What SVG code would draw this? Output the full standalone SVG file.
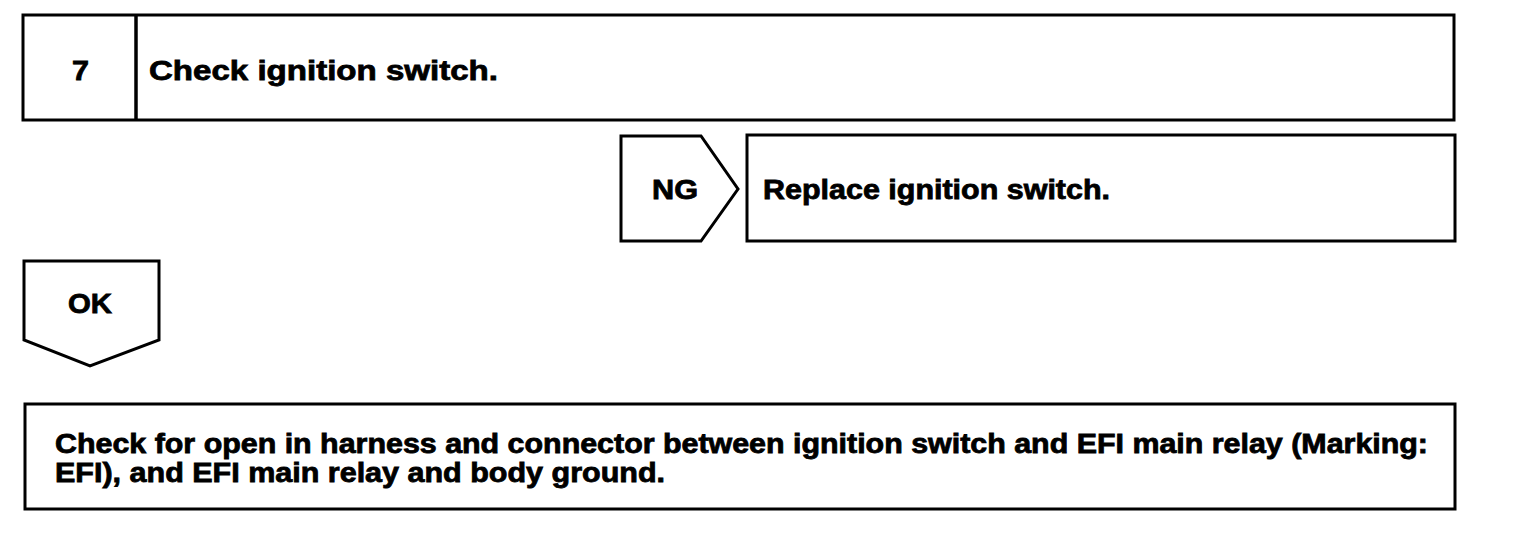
<svg xmlns="http://www.w3.org/2000/svg" width="1536" height="546" viewBox="0 0 1536 546">
<style>
.box{fill:#fff;stroke:#000;stroke-width:3}
.t{font-family:"Liberation Sans",Arial,Helvetica,sans-serif;font-weight:bold;font-size:28px;fill:#000;stroke:#000;stroke-width:0.8}
.s{font-size:27px}
</style>
<rect width="1536" height="546" fill="#fff"/>
<g id="step7">
<rect class="box" x="23" y="15" width="1431" height="105" stroke-width="3.5"/>
<line x1="136" y1="15" x2="136" y2="120" stroke="#000" stroke-width="3.5"/>
<text class="t" x="72" y="80" textLength="17" lengthAdjust="spacingAndGlyphs">7</text>
<text class="t" x="149" y="80" textLength="349" lengthAdjust="spacingAndGlyphs">Check ignition switch.</text>
</g>
<g id="connectors">
<g id="ng">
<polygon class="box" points="621,136 701,136 738,189 701,241 621,241"/>
<text class="t s" x="652" y="199" textLength="46" lengthAdjust="spacingAndGlyphs">NG</text>
</g>
<g id="ok">
<polygon class="box" points="24,261 159,261 159,340 90,366 24,340"/>
<text class="t s" x="68" y="313" textLength="44" lengthAdjust="spacingAndGlyphs">OK</text>
</g>
</g>
<g id="replace">
<rect class="box" x="747" y="135" width="708" height="106"/>
<text class="t s" x="763" y="199" textLength="347" lengthAdjust="spacingAndGlyphs">Replace ignition switch.</text>
</g>
<g id="checkopen">
<rect class="box" x="25" y="404" width="1430" height="105"/>
<text class="t s" x="55" y="453" textLength="1373" lengthAdjust="spacingAndGlyphs">Check for open in harness and connector between ignition switch and EFI main relay (Marking:</text>
<text class="t s" x="55" y="482" textLength="610" lengthAdjust="spacingAndGlyphs">EFI), and EFI main relay and body ground.</text>
</g>
</svg>
